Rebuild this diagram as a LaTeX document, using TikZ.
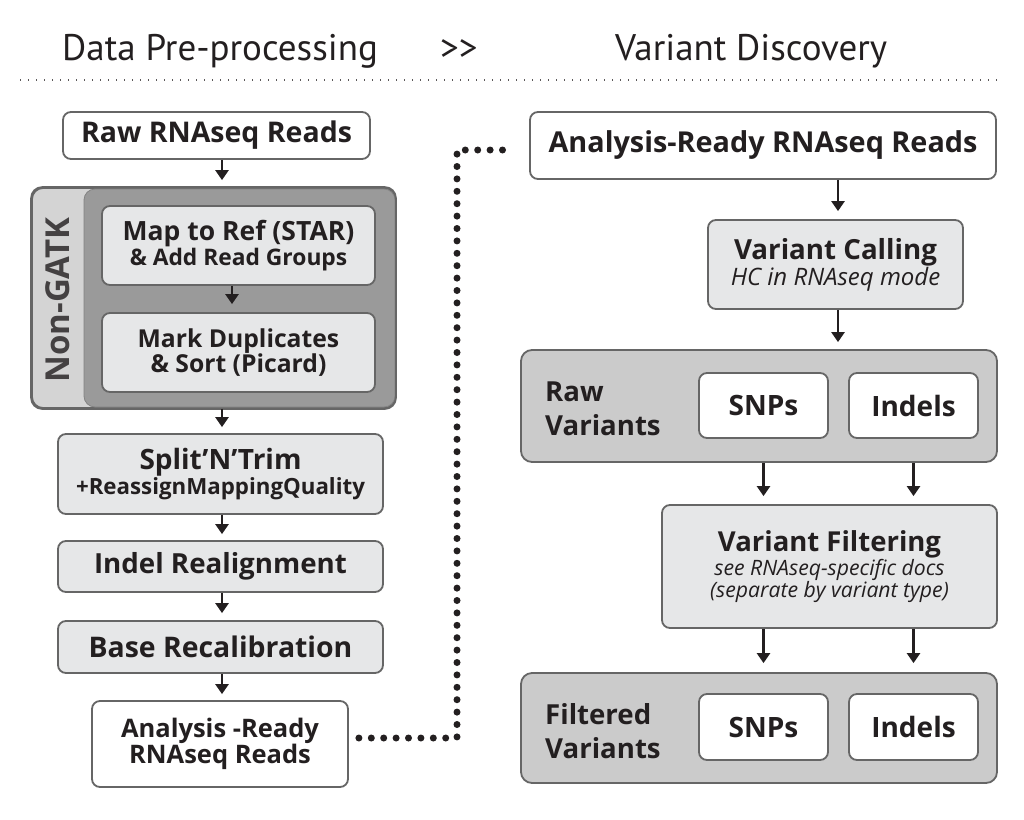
\documentclass[tikz,border=0pt]{standalone}
\usepackage{fontspec}
\setmainfont{Open Sans}
\newfontfamily\headfont{PT Sans}
\usetikzlibrary{arrows.meta}
\definecolor{ink}{HTML}{231F20}
\definecolor{bord}{HTML}{666666}
\definecolor{lite}{HTML}{E6E7E8}
\definecolor{midg}{HTML}{CBCBCB}
\definecolor{darkg}{HTML}{9A9A9A}
\definecolor{strip}{HTML}{D4D4D4}
\newcommand{\fsz}[2]{\fontsize{#1}{#2}\selectfont}
\begin{document}
\begin{tikzpicture}[x=1pt,y=-1pt,
  box/.style={draw=bord, line width=1.8pt, rounded corners=8pt, align=center, inner sep=0pt, text=ink, font=\bfseries},
  whitebox/.style={box, fill=white},
  greybox/.style={box, fill=lite},
  panel/.style={box, fill=midg, rounded corners=11pt},
  arr/.style={draw=ink, line width=2.6pt, -{Triangle[width=13pt,length=10pt]}},
  dotc/.style={draw=ink, line width=7pt, line cap=round, dash pattern=on 0pt off 12.4pt},
  hdot/.style={draw=ink!75, line width=2.6pt, dash pattern=on 1.3pt off 6.7pt},
  head/.style={anchor=base west, inner sep=0pt, text=ink, font=\headfont\fsz{37}{40}}
]
\useasboundingbox[fill=white] (0,0) rectangle (1024,819);

% header
\node[head] (h1) at (62,60) {Data Pre-processing};
\node[head] (h2) at (440,60) {{>}{>}};
\node[head] (h3) at (615,60) {Variant Discovery};
\coordinate (hl) at (20,80);
\coordinate (hr) at (1002,80);
\draw[hdot] (hl) -- (hr);

% left column
\node[whitebox, minimum width=307, minimum height=47] (raw) at (216.5,135.5) {\fsz{28.5}{30}Raw RNAseq Reads};

\node[draw=bord, line width=1.8pt, fill=strip, rounded corners=11pt, minimum width=363, minimum height=220, inner sep=0pt] (grp) at (213.5,298) {};
\node[fill=darkg, draw=darkg!85!black, line width=0.8pt, rounded corners=11pt, minimum width=311, minimum height=218, inner sep=0pt] (grpin) at (239.5,298) {};
\draw[draw=bord, line width=1.8pt, rounded corners=11pt] (grp.north west) rectangle (grp.south east);
\node[rotate=90, inner sep=0pt, text=ink!85, font=\bfseries\fsz{33}{34}] (ngl) at (58,300) {Non-GATK};

\node[greybox, minimum width=273, minimum height=79] (map) at (238.5,245.5)
  {\fsz{26.5}{28}Map to Ref (STAR)\\\fsz{22.8}{28}\& Add Read Groups};
\node[greybox, minimum width=273, minimum height=79] (mark) at (238.5,352.5)
  {\fsz{24.7}{32}Mark Duplicates\\\fsz{24.7}{32}\& Sort (Picard)};

\node[greybox, minimum width=325, minimum height=80] (split) at (220.5,474)
  {\fsz{28}{29}Split’N’Trim\\\fsz{22.3}{29}+ReassignMappingQuality};
\node[greybox, minimum width=325, minimum height=51] (indel) at (220.5,566.5)
  {\fsz{27.7}{28}Indel Realignment};
\node[greybox, minimum width=325, minimum height=52] (base) at (220.5,647)
  {\fsz{28.4}{28}Base Recalibration};
\node[whitebox, minimum width=256, minimum height=86] (ar1) at (220,744)
  {\fsz{25.5}{33}Analysis -Ready\\\fsz{25.5}{33}RNAseq Reads};

\coordinate (axl) at (222,0);
\coordinate (axm) at (232,0);
\draw[arr, shorten >=7pt] (raw.south -| axl) -- (grp.north -| axl);
\draw[arr, shorten >=8pt] (map.south -| axm) -- (mark.north -| axm);
\draw[arr, shorten >=6pt] (grp.south -| axl) -- (split.north -| axl);
\draw[arr, shorten >=6pt] (split.south -| axl) -- (indel.north -| axl);
\draw[arr, shorten >=7pt] (indel.south -| axl) -- (base.north -| axl);
\draw[arr, shorten >=6pt] (base.south -| axl) -- (ar1.north -| axl);

% right column
\node[whitebox, minimum width=466, minimum height=67] (ar2) at (763,145.5)
  {\fsz{28.8}{30}Analysis-Ready RNAseq Reads};
\node[greybox, minimum width=255, minimum height=89] (vc) at (835.5,264.5)
  {\fsz{27.7}{32}Variant Calling\\\fsz{24}{32}\mdseries\itshape HC in RNAseq mode};

\node[panel, minimum width=476, minimum height=112] (rawv) at (759,406) {};
\node[anchor=west, inner sep=0pt, align=left, text=ink, font=\bfseries\fsz{27.6}{34}] (rawl) at (545,409) {Raw\\Variants};
\node[whitebox, minimum width=129, minimum height=65] (snp1) at (763.5,405.5) {\fsz{28}{28}SNPs};
\node[whitebox, minimum width=129, minimum height=65] (ind1) at (913.5,405.5) {\fsz{28}{28}Indels};

\node[greybox, minimum width=335, minimum height=123] (vf) at (829.5,566.5)
  {\fsz{27.5}{33}Variant Filtering\\\fsz{21.2}{33}\mdseries\itshape see RNAseq-specific docs\\\fsz{21.2}{33}\mdseries\itshape (separate by variant type)};

\node[panel, minimum width=476, minimum height=110] (filt) at (759,728) {};
\node[anchor=west, inner sep=0pt, align=left, text=ink, font=\bfseries\fsz{27.6}{34}] (filtl) at (545,731) {Filtered\\Variants};
\node[whitebox, minimum width=129, minimum height=66] (snp2) at (763.5,727) {\fsz{28}{28}SNPs};
\node[whitebox, minimum width=129, minimum height=66] (ind2) at (913.5,727) {\fsz{28}{28}Indels};

\coordinate (axr) at (838,0);
\draw[arr, shorten >=8pt] (ar2.south -| axr) -- (vc.north -| axr);
\draw[arr, shorten >=7pt] (vc.south -| axr) -- (rawv.north -| axr);
\draw[arr, shorten >=8pt] (snp1 |- rawv.south) -- (snp1 |- vf.north);
\draw[arr, shorten >=8pt] (ind1 |- rawv.south) -- (ind1 |- vf.north);
\draw[arr, shorten >=9pt] (snp1 |- vf.south) -- (snp1 |- filt.north);
\draw[arr, shorten >=9pt] (ind1 |- vf.south) -- (ind1 |- filt.north);

% dotted connector
\coordinate (bend) at (457,0);
\draw[dotc] ([xshift=10pt,yshift=6pt]ar1.east) -| ([yshift=-4.5pt]bend |- ar2.west) -- ([xshift=-17pt,yshift=-4.5pt]ar2.west);
\end{tikzpicture}
\end{document}
